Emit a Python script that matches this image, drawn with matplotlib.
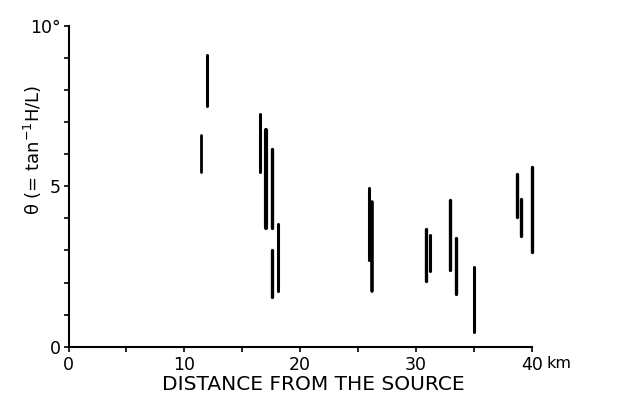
import matplotlib
matplotlib.use("Agg")
import matplotlib.pyplot as plt

# Distance from source (km) and theta range (degrees) of each vertical segment
distance = [11.4, 11.95, 16.5, 17.05, 17.55, 17.6, 18.05,
            25.95, 26.25, 30.9, 31.25, 32.95, 33.5, 35.0,
            38.7, 39.05, 40.0]
theta_low = [5.45, 7.5, 5.45, 3.7, 3.7, 1.55, 1.75,
             2.7, 1.75, 2.05, 2.35, 2.4, 1.65, 0.46,
             4.05, 3.45, 2.96]
theta_high = [6.6, 9.1, 7.27, 6.77, 6.17, 3.02, 3.84,
              4.95, 4.52, 3.68, 3.47, 4.56, 3.38, 2.47,
              5.4, 4.6, 5.6]
line_widths = [2.0, 2.2, 2.2, 3.0, 2.4, 2.4, 2.2,
               2.2, 2.6, 2.4, 2.2, 2.4, 2.4, 2.2,
               2.4, 2.4, 2.4]

xticks = [0, 5, 10, 15, 20, 25, 30, 35, 40]
xtick_labels = ["0", "", "10", "", "20", "", "30", "", "40"]
yticks = list(range(0, 11))
ytick_labels = ["0", "", "", "", "", "5", "", "", "", "", "10°"]

W, H = 630, 399
fig = plt.figure(figsize=(W / 100, H / 100), dpi=100)
ax = fig.add_axes([68.5 / W, 1 - 346.7 / H, 463.2 / W, 320.7 / H])

ax.vlines(distance, theta_low, theta_high, colors="black",
          linewidths=line_widths, capstyle="round", clip_on=False)

ax.set_xlim(0, 40)
ax.set_ylim(0, 10)
ax.spines["top"].set_visible(False)
ax.spines["right"].set_visible(False)
ax.spines["left"].set_linewidth(1.5)
ax.spines["bottom"].set_linewidth(1.5)

ax.set_xticks(xticks)
ax.set_xticklabels(xtick_labels, fontsize=12.5)
ax.set_yticks(yticks)
ax.set_yticklabels(ytick_labels, fontsize=12.5)
ax.tick_params(direction="out", length=3.5, width=1.2)
ax.tick_params(axis="x", pad=3)
ax.tick_params(axis="y", pad=2)

# "km" unit after the 40 label
fig.text(546 / W, 1 - 363 / H, "km", fontsize=11.5, ha="left", va="center")

fig.text(313 / W, 1 - 384 / H, "DISTANCE FROM THE SOURCE",
         fontsize=14.5, ha="center", va="center")
fig.text(33 / W, 1 - 150 / H, r"θ (= tan$^{\mathregular{-1}}$H/L)",
         fontsize=13, rotation=90, ha="center", va="center")

fig.savefig("out.png", dpi=100)
